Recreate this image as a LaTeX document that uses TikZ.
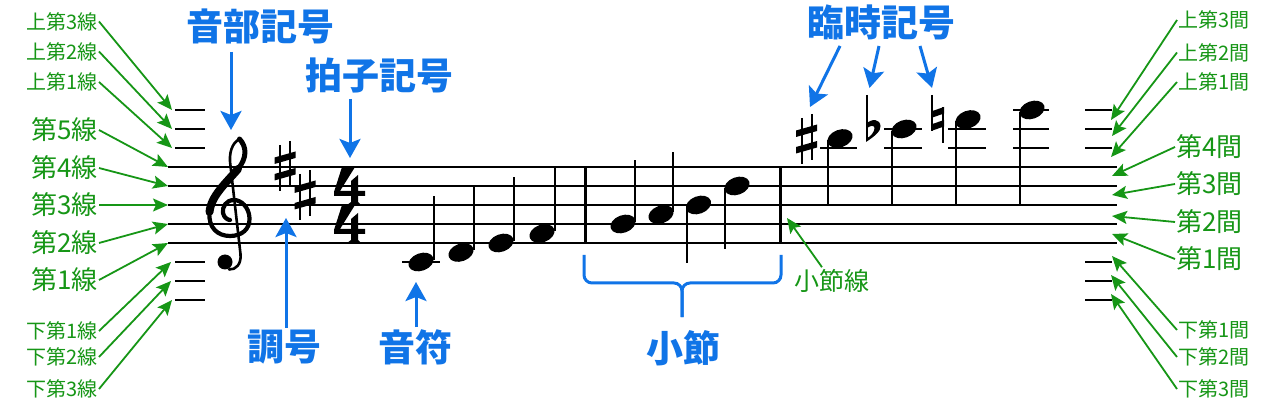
\documentclass[tikz,border=0pt]{standalone}
\usepackage{fontspec}
\newfontfamily\jp{Noto Sans CJK JP}
\usetikzlibrary{arrows.meta,shapes.geometric}
\definecolor{lblgreen}{RGB}{22,150,22}
\definecolor{lblblue}{RGB}{16,116,231}
\tikzset{
  staffline/.style={line width=1.8pt, black},
  ledger/.style={line width=1.8pt, black},
  stemline/.style={line width=2pt},
  barline/.style={line width=3pt},
  head/.style={ellipse, fill=black, minimum width=26pt, minimum height=17.5pt, inner sep=0pt, rotate=20},
  gsmall/.style={font=\jp\fontsize{20}{20}\selectfont, text=lblgreen, inner sep=1pt},
  glarge/.style={font=\jp\fontsize{26}{26}\selectfont, text=lblgreen, inner sep=1pt},
  blab/.style={font=\jp\bfseries\fontsize{37}{37}\selectfont, text=lblblue, inner sep=0pt},
  garrow/.style={draw=lblgreen, line width=1.8pt, -{Stealth[length=15pt,width=13pt,inset=3pt]}},
  barrow/.style={draw=lblblue, line width=3pt, -{Stealth[length=19pt,width=21pt,inset=4pt]}},
  bracestyle/.style={draw=lblblue, line width=3pt, rounded corners=8pt},
  sharpsign/.pic={
    \draw[line width=2pt] (-5,-21) -- (-5,25);
    \draw[line width=2pt] (5,-25) -- (5,21);
    \fill (-10.5,-2) -- (10.5,-8) -- (10.5,-14.5) -- (-10.5,-8.5) -- cycle;
    \fill (-10.5,14.5) -- (10.5,8.5) -- (10.5,2) -- (-10.5,8) -- cycle;
  },
  foursign/.pic={
    \fill (342,0)--(355,0)--(340,24)--(351,24)--(351,14)--(358,8)--(358,24)--(365,24)--(365,29)--(358,29)--(358,35)--(361,38)--(347,38)--(351,35)--(351,29)--(334,29)--(334,25)--cycle;
  },
}
\begin{document}
\begin{tikzpicture}[x=1pt,y=-1pt]
\fill[white] (0,0) rectangle (1281,411);
\useasboundingbox (0,0) rectangle (1281,411);

% staff
\foreach \y in {167,186,205,224,243} \draw[staffline] (168,\y) -- (1117,\y);
% ledger lines at the sides
\foreach \y in {110,129,148,262,281,300} {
  \draw[ledger] (175,\y) -- (205,\y);
  \draw[ledger] (1085,\y) -- (1112,\y);
}

% treble clef
\begin{scope}[line cap=round, line join=round]
\draw[line width=2.6pt] (239.5,139) .. controls (232,143) and (228.5,153) .. (230.5,166) -- (240.5,254) .. controls (241.5,264) and (236,270) .. (229,269.5);
\fill (225,262) circle[radius=7.5pt];
\draw[line width=5pt] (239.5,139) .. controls (247,147) and (247,158) .. (238,169);
\draw[line width=8pt] (238,169) .. controls (226,183) and (211,196) .. (209.5,212);
\draw[line width=4.2pt] (209.5,212) .. controls (208,228) and (218,236) .. (230,236) .. controls (242,236) and (250,229) .. (249.5,218) .. controls (249,207) and (241,200) .. (234,200) .. controls (226,200) and (222,207) .. (223,213) .. controls (224,218) and (228,220) .. (230,220);
\end{scope}

% key signature
\pic at (285,166) {sharpsign};
\pic at (305,195) {sharpsign};
% time signature
\pic at (0,167) {foursign};
\pic at (0,205) {foursign};

% measure 1
\draw[ledger] (402,262) -- (440,262);
\node[head] (n1) at (421,262) {};
\node[head] (n2) at (461,252.5) {};
\node[head] (n3) at (501,243) {};
\node[head] (n4) at (542,233.5) {};
\draw[stemline] (433.5,260) -- (433.5,196);
\draw[stemline] (473.5,250) -- (473.5,187);
\draw[stemline] (513.5,241) -- (513.5,177);
\draw[stemline] (554.5,231) -- (554.5,168);
\draw[barline] (585,167) -- (585,243);

% measure 2
\node[head] (n5) at (623,224) {};
\node[head] (n6) at (661,214.5) {};
\node[head] (n7) at (698.5,205) {};
\node[head] (n8) at (737,186) {};
\draw[stemline] (635,222) -- (635,160);
\draw[stemline] (673,212) -- (673,152);
\draw[stemline] (686.5,207) -- (686.5,263);
\draw[stemline] (725,188) -- (725,249);
\draw[barline] (780,167) -- (780,243);

% measure 3
\pic at (806.5,139) {sharpsign};
\draw[ledger] (820,148) -- (857,148);
\node[head] (n9) at (840,138.5) {};
\draw[stemline] (828,140) -- (828,205);

\draw[line width=2.2pt] (867,95) -- (867,141.5);
\fill (866,142) .. controls (875,136) and (881,131) .. (880.5,126) .. controls (880,119) and (872,118) .. (866,124) -- (866,129) .. controls (870,125) and (874.5,125) .. (874.5,128) .. controls (874.5,132) and (871,136) .. (866,139) -- cycle;
\draw[ledger] (884,129) -- (922,129);
\draw[ledger] (884,148) -- (922,148);
\node[head] (n10) at (904,129) {};
\draw[stemline] (892,131) -- (892,205);

\draw[line width=2.2pt] (932,95) -- (932,131);
\draw[line width=2.2pt] (943,107) -- (943,143);
\fill (931,118) -- (944,113.5) -- (944,107) -- (931,111.5) -- cycle;
\fill (931,131) -- (944,126.5) -- (944,120) -- (931,124.5) -- cycle;
\draw[ledger] (948,129) -- (986,129);
\draw[ledger] (948,148) -- (986,148);
\node[head] (n11) at (968,119.5) {};
\draw[stemline] (956,121) -- (956,205);

\draw[ledger] (1013,110) -- (1049,110);
\draw[ledger] (1013,129) -- (1049,129);
\draw[ledger] (1013,148) -- (1049,148);
\node[head] (n12) at (1032,110) {};
\draw[stemline] (1020,112) -- (1020,205);

% left labels
\node[gsmall, anchor=east] (gl1) at (99,21.5) {上第3線};
\node[gsmall, anchor=east] (gl2) at (99,51.5) {上第2線};
\node[gsmall, anchor=east] (gl3) at (99,82) {上第1線};
\node[glarge, anchor=east] (gl4) at (99,130) {第5線};
\node[glarge, anchor=east] (gl5) at (99,168) {第4線};
\node[glarge, anchor=east] (gl6) at (99,205) {第3線};
\node[glarge, anchor=east] (gl7) at (99,243) {第2線};
\node[glarge, anchor=east] (gl8) at (99,280) {第1線};
\node[gsmall, anchor=east] (gl9) at (99,331) {下第1線};
\node[gsmall, anchor=east] (gl10) at (99,357) {下第2線};
\node[gsmall, anchor=east] (gl11) at (99,389) {下第3線};
\coordinate (tl1) at (172,110);
\coordinate (tl2) at (172,129);
\coordinate (tl3) at (172,148);
\coordinate (tl4) at (168,167);
\coordinate (tl5) at (168,186);
\coordinate (tl6) at (168,205);
\coordinate (tl7) at (168,224);
\coordinate (tl8) at (168,243);
\coordinate (tl9) at (171,262);
\coordinate (tl10) at (171,281);
\coordinate (tl11) at (172,300);
\foreach \i in {1,...,11} \draw[garrow] (gl\i.east) -- (tl\i);

% right labels
\node[gsmall, anchor=west] (gr1) at (1177,20) {上第3間};
\node[gsmall, anchor=west] (gr2) at (1177,52.5) {上第2間};
\node[gsmall, anchor=west] (gr3) at (1177,82) {上第1間};
\node[glarge, anchor=west] (gr4) at (1175,147) {第4間};
\node[glarge, anchor=west] (gr5) at (1175,184) {第3間};
\node[glarge, anchor=west] (gr6) at (1175,222) {第2間};
\node[glarge, anchor=west] (gr7) at (1175,259) {第1間};
\node[gsmall, anchor=west] (gr8) at (1177,330) {下第1間};
\node[gsmall, anchor=west] (gr9) at (1177,357) {下第2間};
\node[gsmall, anchor=west] (gr10) at (1177,389) {下第3間};
\coordinate (tr1) at (1111,120);
\coordinate (tr2) at (1112,136);
\coordinate (tr3) at (1111,157);
\coordinate (tr4) at (1112,176);
\coordinate (tr5) at (1112,195);
\coordinate (tr6) at (1112,216);
\coordinate (tr7) at (1112,234);
\coordinate (tr8) at (1112,256);
\coordinate (tr9) at (1111,275);
\coordinate (tr10) at (1111,294);
\foreach \i in {1,...,10} \draw[garrow] (gr\i.west) -- (tr\i);

% bar line label
\node[glarge, font=\jp\fontsize{25}{25}\selectfont] (bl) at (832,281) {小節線};
\coordinate (tbl) at (787,218);
\path (bl.north) ++(-10,-1) coordinate (blt);
\draw[garrow] (blt) -- (tbl);

% blue labels
\node[blab] (clef) at (260.5,26) {音部記号};
\node[blab] (time) at (379,76) {拍子記号};
\node[blab] (key) at (284,347) {調号};
\node[blab] (note) at (415,347) {音符};
\node[blab] (meas) at (683,348) {小節};
\node[blab] (acc) at (881,22.5) {臨時記号};

\coordinate (tc) at (231,130);
\draw[barrow, shorten <=8pt] (tc |- clef.south) -- (tc);
\coordinate (tt) at (350,158);
\draw[barrow, shorten <=5pt] (tt |- time.south) -- (tt);
\coordinate (tk) at (286,218);
\draw[barrow, shorten <=2pt] (tk |- key.north) -- (tk);
\coordinate (tn) at (416,282);
\draw[barrow, shorten <=2pt] (tn |- note.north) -- (tn);

\coordinate (sa1) at (840,46);
\coordinate (ta1) at (810,107);
\coordinate (sa2) at (879,46);
\coordinate (ta2) at (869.5,88);
\coordinate (sa3) at (920,46);
\coordinate (ta3) at (932,88);
\draw[barrow] (sa1) -- (ta1);
\draw[barrow] (sa2) -- (ta2);
\draw[barrow] (sa3) -- (ta3);

% measure brace
\draw[bracestyle] (584,255) -- (584,283) -- (682,283) -- (682,317);
\draw[bracestyle] (781,255) -- (781,283) -- (682,283) -- (682,317);
\end{tikzpicture}
\end{document}
